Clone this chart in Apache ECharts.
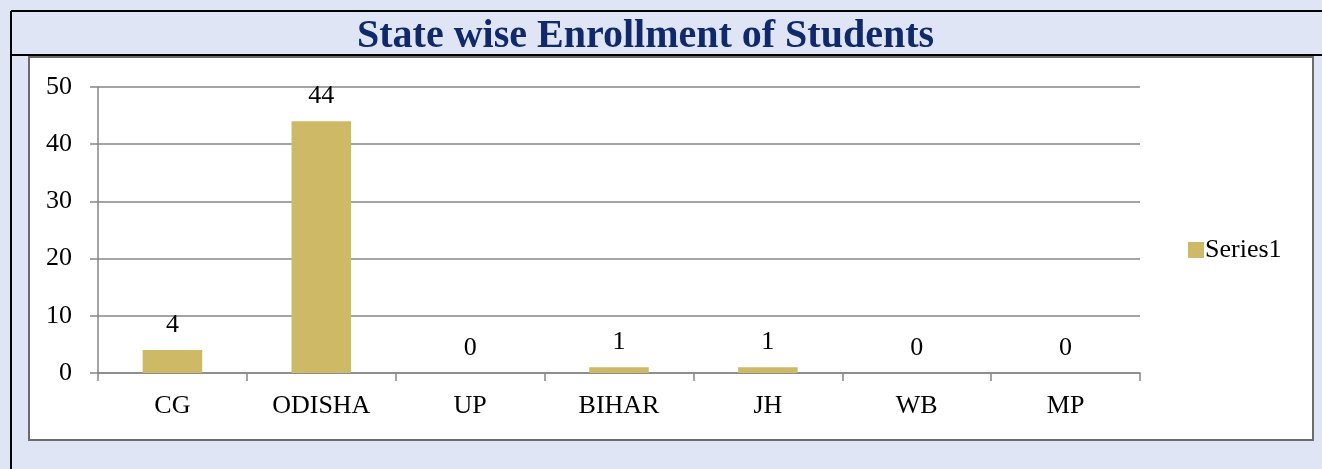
<!DOCTYPE html>
<html>
<head>
<meta charset="utf-8">
<script src="https://cdn.jsdelivr.net/npm/echarts@6/dist/echarts.min.js"></script>
<style>
  html, body { margin: 0; padding: 0; background: #dfe5f5; }
  #main { width: 1322px; height: 469px; }
</style>
</head>
<body>
<div id="main"></div>
<script>
// data
const states = ['CG', 'ODISHA', 'UP', 'BIHAR', 'JH', 'WB', 'MP'];
const enrolled = [4, 44, 0, 1, 1, 0, 0];
const yTicks = [0, 10, 20, 30, 40, 50];

const chart = echarts.init(document.getElementById('main'));
const serif = '"Liberation Serif", "DejaVu Serif", serif';
const option = {
    backgroundColor: '#dfe5f5',
    animation: false,
    title: {
        text: 'State wise Enrollment of Students',
        left: 352,
        top: 12,
        textStyle: { fontFamily: serif, fontSize: 40, fontWeight: 'bold', color: '#10296b' }
    },
    graphic: [
        // outer black frame lines
        { type: 'line', shape: { x1: 11, y1: 11, x2: 1322, y2: 11 }, style: { stroke: '#000', lineWidth: 2 }, z: -1 },
        { type: 'line', shape: { x1: 11, y1: 11, x2: 11, y2: 469 }, style: { stroke: '#000', lineWidth: 2 }, z: -1 },
        { type: 'line', shape: { x1: 11, y1: 55, x2: 1322, y2: 55 }, style: { stroke: '#000', lineWidth: 2 }, z: -1 },
        // white chart box
        { type: 'rect', shape: { x: 29, y: 57, width: 1284, height: 383 }, style: { fill: '#fff', stroke: '#6b6b6b', lineWidth: 2 }, z: -1 }
    ],
    legend: {
        data: ['Series1'],
        orient: 'vertical',
        left: 1183,
        top: 232,
        itemWidth: 16,
        itemHeight: 16,
        itemGap: 4,
        icon: 'rect',
        textStyle: { fontFamily: serif, fontSize: 26, color: '#000', padding: [0, 0, 0, -4] }
    },
    grid: { left: 98, right: 182, top: 87, bottom: 96 },
    xAxis: {
        type: 'category',
        data: states,
        axisLine: { lineStyle: { color: '#868686', width: 1.5 } },
        axisTick: { show: true, length: 8, lineStyle: { color: '#868686', width: 1.5 } },
        axisLabel: { fontFamily: serif, fontSize: 26, color: '#000', margin: 20 }
    },
    yAxis: {
        type: 'value',
        min: yTicks[0],
        max: yTicks[yTicks.length - 1],
        interval: yTicks[1] - yTicks[0],
        axisLine: { show: true, lineStyle: { color: '#868686', width: 1.5 } },
        axisTick: { show: true, length: 8, lineStyle: { color: '#868686', width: 1.5 } },
        splitLine: { lineStyle: { color: '#868686', width: 1.5 } },
        axisLabel: { fontFamily: serif, fontSize: 26, color: '#000', margin: 26 }
    },
    series: [{
        name: 'Series1',
        type: 'bar',
        data: enrolled,
        barWidth: '40%',
        itemStyle: { color: '#cdb966' },
        label: {
            show: true,
            position: 'top',
            distance: 12,
            fontFamily: serif,
            fontSize: 26,
            color: '#000'
        }
    }]
};
chart.setOption(option);
</script>
</body>
</html>
